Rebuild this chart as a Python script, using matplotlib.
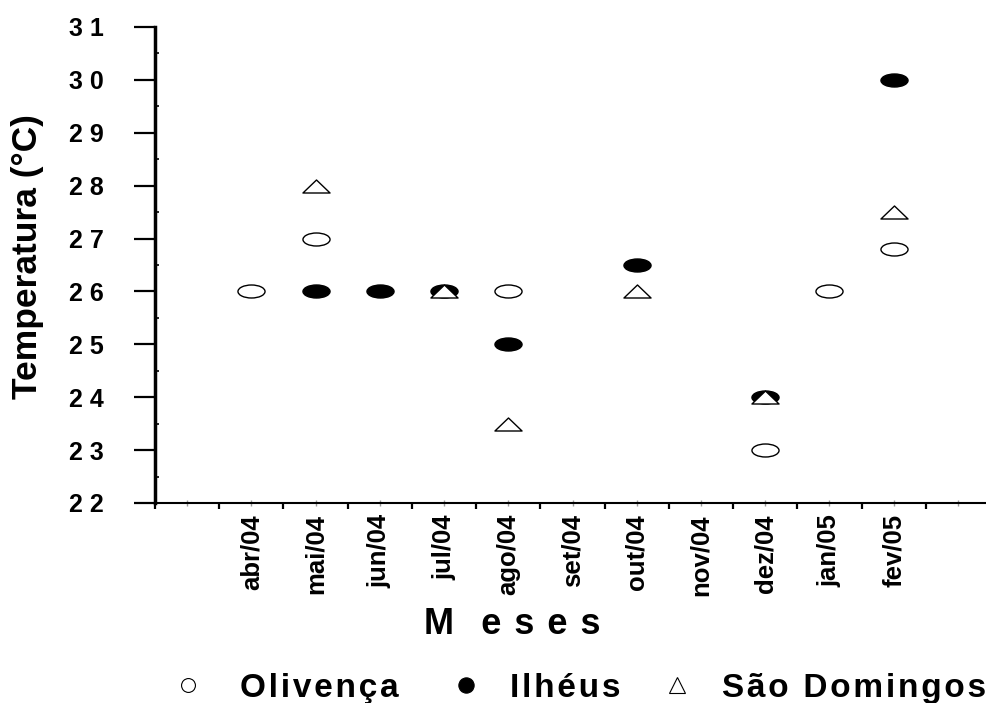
import numpy as np
import matplotlib
matplotlib.use('Agg')
import matplotlib.pyplot as plt
from matplotlib.path import Path
from matplotlib.lines import Line2D

nan = np.nan

# Temperatura mensal da água (°C) por localidade
meses = ['abr/04', 'mai/04', 'jun/04', 'jul/04', 'ago/04', 'set/04',
         'out/04', 'nov/04', 'dez/04', 'jan/05', 'fev/05']
olivenca = [26, 27, nan, nan, 26, nan, nan, nan, 23, 26, 26.8]
ilheus = [nan, 26, 26, 26, 25, nan, 26.5, nan, 24, nan, 30]
sao_domingos = [nan, 28, nan, 26, 23.5, nan, 26, nan, 24, nan, 27.5]
y_ticks = list(range(22, 32))
locais = ['Olivença', 'Ilhéus', 'São Domingos']

plt.rcParams['font.family'] = ['Liberation Sans', 'DejaVu Sans']
plt.rcParams['font.weight'] = 'bold'


def espacado(s):
    # texto com um pequeno espaço entre as letras
    return '\u200a'.join(s)


# marcadores achatados (elipse e triângulo)
circ = Path.unit_circle()
elipse = Path(circ.vertices * [1.0, 0.48], circ.codes)
triangulo = Path([(-1, -0.48), (1, -0.48), (0, 0.48), (-1, -0.48)],
                 [Path.MOVETO, Path.LINETO, Path.LINETO, Path.CLOSEPOLY])

W, H = 987, 703
fig = plt.figure(figsize=(W / 100, H / 100), dpi=100)
ax = fig.add_axes([155 / W, 1 - 503 / H, 835 / W, 476 / H])

x = np.arange(1, len(meses) + 1)
ax.plot(x, olivenca, linestyle='none', marker=elipse, markersize=19.5,
        markerfacecolor='white', markeredgecolor='black', markeredgewidth=1.0)
ax.plot(x, ilheus, linestyle='none', marker=elipse, markersize=19.5,
        markerfacecolor='black', markeredgecolor='black', markeredgewidth=1.0)
ax.plot(x, sao_domingos, linestyle='none', marker=triangulo, markersize=19.5,
        markerfacecolor='white', markeredgecolor='black', markeredgewidth=1.0)

ax.set_xlim(-0.5, len(meses) + 1.5)
ax.set_ylim(22, 31)

ax.spines['top'].set_visible(False)
ax.spines['right'].set_visible(False)
ax.spines['left'].set_linewidth(2.5)
ax.spines['bottom'].set_linewidth(1.5)

# eixo y
ax.set_yticks(y_ticks)
ax.set_yticklabels([' '.join(str(v)) for v in y_ticks], fontsize=18,
                   fontweight='bold')
ax.set_yticks(np.arange(22.5, 31, 1.0), minor=True)
ax.tick_params(axis='y', which='major', direction='out', length=15,
               width=1.6, pad=22)
ax.tick_params(axis='y', which='minor', direction='in', length=3, width=1.2)

# eixo x: traços nas divisões, rótulos no centro
ax.set_xticks(np.arange(-0.5, len(meses) + 2, 1.0))
ax.set_xticklabels([])
ax.set_xticks(np.arange(0, len(meses) + 2), minor=True)
ax.set_xticklabels([''] + meses + [''], minor=True, rotation=90,
                   fontsize=18.5, fontweight='bold', va='top')
ax.tick_params(axis='x', which='major', direction='out', length=4,
               width=1.6)
ax.tick_params(axis='x', which='minor', direction='inout', length=4,
               width=1, color='#999999', pad=6)

fig.text(28 / W, 1 - 257 / H, 'Temperatura (°C)', rotation=90,
         ha='center', va='center', fontsize=25.5, fontweight='bold')
fig.text(512 / W, 1 - 625 / H, 'M  \u2009e \u200as \u200ae \u200as',
         ha='center', va='center', fontsize=26, fontweight='bold')

# legenda montada à mão na base da figura
simbolos = [
    dict(marker='o', markersize=10, markerfacecolor='white',
         markeredgewidth=0.8),
    dict(marker='o', markersize=11, markerfacecolor='black',
         markeredgewidth=0.8),
    dict(marker='^', markersize=12, markerfacecolor='white',
         markeredgewidth=0.8),
]
x_simbolo = [188, 466, 677]
x_texto = [240, 510, 722]
for nome, simb, xs, xt in zip(locais, simbolos, x_simbolo, x_texto):
    fig.add_artist(Line2D([xs / W], [1 - 685 / H], transform=fig.transFigure,
                          linestyle='none', markeredgecolor='black', **simb))
    fig.text(xt / W, 1 - 697 / H, espacado(nome), ha='left', va='baseline',
             fontsize=24, fontweight='bold')

fig.savefig('out.png', dpi=100)
